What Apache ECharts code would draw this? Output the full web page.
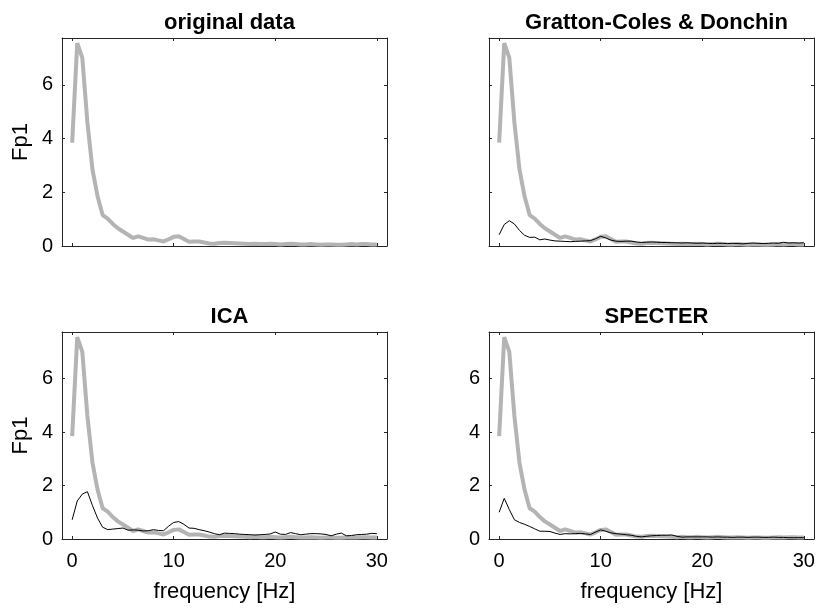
<!DOCTYPE html>
<html>
<head>
<meta charset="utf-8">
<script src="https://cdn.jsdelivr.net/npm/echarts@6/dist/echarts.min.js"></script>
<style>html,body{margin:0;padding:0;background:#fff}#c{width:818px;height:609px}</style>
</head>
<body>
<div id="c"></div>
<script>
const freq = [0,0.5,1,1.5,2,2.5,3,3.5,4,4.5,5,5.5,6,6.5,7,7.5,8,8.5,9,9.5,10,10.5,11,11.5,12,12.5,13,13.5,14,14.5,15,15.5,16,16.5,17,17.5,18,18.5,19,19.5,20,20.5,21,21.5,22,22.5,23,23.5,24,24.5,25,25.5,26,26.5,27,27.5,28,28.5,29,29.5,30];
const original = [3.85,7.55,7.0,4.6,2.85,1.85,1.15,1.02,0.82,0.66,
  0.54,0.42,0.30,0.36,0.30,0.24,0.25,0.21,0.17,0.25,
  0.34,0.36,0.26,0.16,0.17,0.17,0.13,0.09,0.08,0.11,
  0.12,0.11,0.10,0.09,0.08,0.07,0.08,0.07,0.07,0.08,
  0.07,0.06,0.07,0.08,0.07,0.06,0.06,0.07,0.06,0.05,
  0.06,0.06,0.05,0.05,0.06,0.07,0.06,0.07,0.07,0.06,0.06];
const grattonColes = [0.42,0.80,0.94,0.82,0.58,0.40,0.32,0.33,0.23,0.26,
  0.22,0.19,0.18,0.17,0.16,0.17,0.18,0.19,0.20,0.27,
  0.36,0.30,0.22,0.18,0.17,0.18,0.18,0.15,0.13,0.14,
  0.15,0.14,0.13,0.13,0.12,0.12,0.11,0.12,0.11,0.10,
  0.11,0.10,0.09,0.10,0.10,0.09,0.10,0.09,0.08,0.10,
  0.11,0.10,0.09,0.10,0.11,0.10,0.14,0.11,0.12,0.11,0.12];
const ica = [0.72,1.42,1.68,1.77,1.25,0.78,0.44,0.35,0.37,0.39,
  0.41,0.33,0.34,0.33,0.30,0.31,0.35,0.32,0.31,0.48,
  0.62,0.65,0.55,0.41,0.40,0.35,0.31,0.26,0.20,0.16,
  0.22,0.21,0.20,0.18,0.17,0.16,0.15,0.16,0.17,0.19,
  0.26,0.18,0.17,0.24,0.20,0.16,0.18,0.20,0.20,0.19,
  0.17,0.12,0.18,0.22,0.12,0.13,0.16,0.17,0.18,0.21,0.20];
const specter = [1.00,1.52,1.10,0.72,0.62,0.55,0.47,0.38,0.29,0.29,
  0.28,0.22,0.17,0.20,0.19,0.20,0.21,0.19,0.17,0.26,
  0.34,0.29,0.23,0.20,0.18,0.16,0.14,0.10,0.08,0.10,
  0.12,0.13,0.14,0.14,0.15,0.10,0.07,0.08,0.08,0.08,
  0.08,0.08,0.07,0.08,0.07,0.07,0.06,0.07,0.07,0.06,
  0.07,0.07,0.06,0.06,0.07,0.06,0.06,0.05,0.05,0.05,0.05];
const xTicks = [0,10,20,30];
const yTicks = [0,2,4,6];
const panelTitles = ['original data','Gratton-Coles & Donchin','ICA','SPECTER'];
const xName = 'frequency [Hz]';
const yName = 'Fp1';

const panels = [
  {title: panelTitles[0], corrected: null,          grid:{left:62, top:38, width:325, height:208}, xl:false, yl:true,  xn:false, yn:true},
  {title: panelTitles[1], corrected: grattonColes,  grid:{left:489, top:38, width:325, height:208}, xl:false, yl:false, xn:false, yn:false},
  {title: panelTitles[2], corrected: ica,           grid:{left:62, top:332, width:325, height:207}, xl:true,  yl:true,  xn:true,  yn:true},
  {title: panelTitles[3], corrected: specter,       grid:{left:489, top:332, width:325, height:207}, xl:true,  yl:true,  xn:true,  yn:false}
];

const AX = '#262626';
const FONT = 'Liberation Sans, Arial, Helvetica, sans-serif';
const pairs = arr => freq.map((f,i)=>[f, arr[i]]);

const grids=[], xAxes=[], yAxes=[], series=[], titles=[];
panels.forEach((p,i)=>{
  grids.push(Object.assign({containLabel:false}, p.grid));
  titles.push({text:p.title, left:p.grid.left + p.grid.width/2, top:p.grid.top - 31, textAlign:'center',
    textStyle:{fontFamily:FONT, fontWeight:'bold', fontSize:22, color:'#000'}});
  ['bottom','top'].forEach(pos=>{
    const main = pos==='bottom';
    xAxes.push({type:'value', gridIndex:i, position:pos, min:-1, max:31,
      axisLine:{show:true, onZero:false, lineStyle:{color:AX, width:1}},
      axisTick:{show:true, inside:true, length:3, customValues:xTicks, lineStyle:{color:AX, width:1}},
      axisLabel:{show: main && p.xl, customValues:xTicks, margin:12, color:'#000', fontSize:20, fontFamily:FONT},
      splitLine:{show:false},
      name: (main && p.xn) ? xName : '', nameLocation:'middle', nameGap:42,
      nameTextStyle:{fontFamily:FONT, fontSize:22, color:'#000'}});
  });
  ['left','right'].forEach(pos=>{
    const main = pos==='left';
    yAxes.push({type:'value', gridIndex:i, position:pos, min:0, max:7.74,
      axisLine:{show:true, onZero:false, lineStyle:{color:AX, width:1}},
      axisTick:{show:true, inside:true, length:3, customValues:yTicks, lineStyle:{color:AX, width:1}},
      axisLabel:{show: main && p.yl, customValues:yTicks, margin:9, color:'#000', fontSize:20, fontFamily:FONT},
      splitLine:{show:false},
      name: (main && p.yn) ? yName : '', nameLocation:'middle', nameGap:30, nameRotate:90,
      nameTextStyle:{fontFamily:FONT, fontSize:22, color:'#000'}});
  });
  series.push({type:'line', xAxisIndex:2*i, yAxisIndex:2*i, data:pairs(original), showSymbol:false,
    lineStyle:{color:'#b4b4b4', width:4}, itemStyle:{color:'#b4b4b4'}, z:2});
  if(p.corrected){
    series.push({type:'line', xAxisIndex:2*i, yAxisIndex:2*i, data:pairs(p.corrected), showSymbol:false,
      lineStyle:{color:'#000', width:1}, itemStyle:{color:'#000'}, z:3});
  }
});

const chart = echarts.init(document.getElementById('c'), null, {renderer:'canvas'});
chart.setOption({animation:false, backgroundColor:'#fff', title:titles, grid:grids, xAxis:xAxes, yAxis:yAxes, series:series});
</script>
</body>
</html>
